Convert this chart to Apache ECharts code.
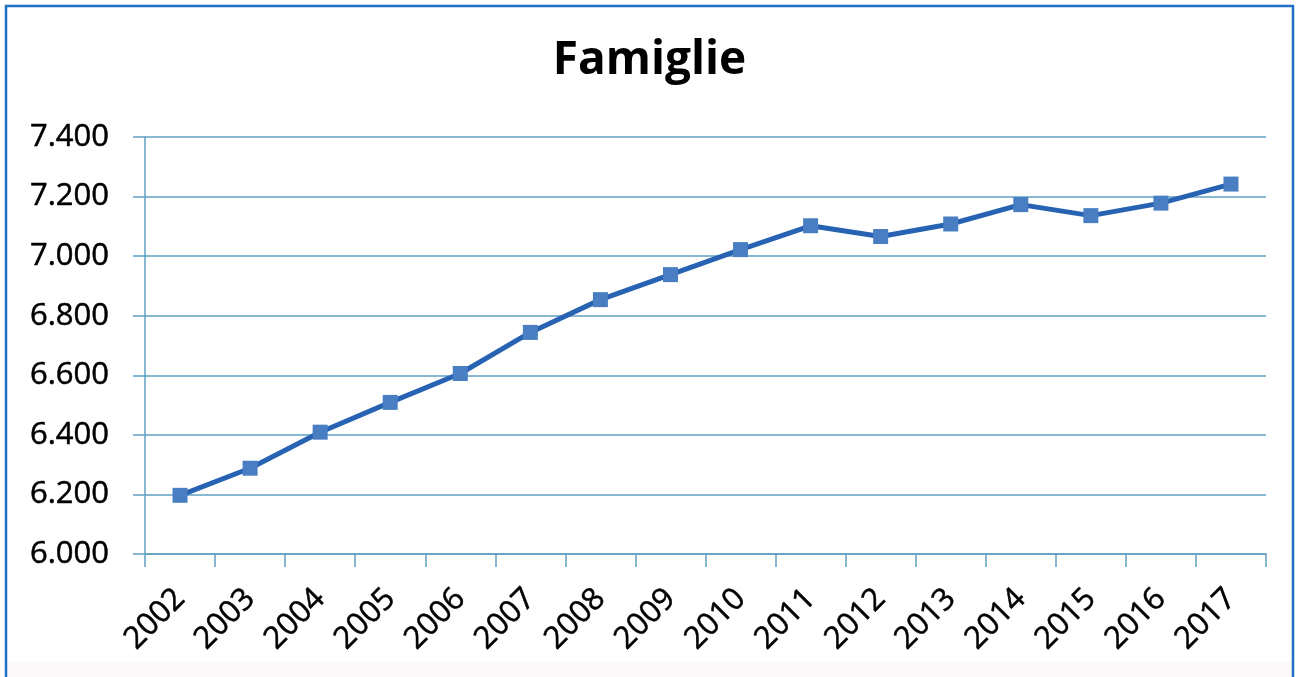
<!DOCTYPE html>
<html>
<head>
<meta charset="utf-8">
<title>Famiglie</title>
<script src="https://cdn.jsdelivr.net/npm/echarts@6/dist/echarts.min.js"></script>
<style>
  html, body { margin: 0; padding: 0; background: #ffffff; }
  #chart { width: 1299px; height: 677px; }
</style>
</head>
<body>
<div id="chart"></div>
<script>
// Numero di famiglie per anno
const years = ['2002', '2003', '2004', '2005', '2006', '2007', '2008', '2009',
               '2010', '2011', '2012', '2013', '2014', '2015', '2016', '2017'];
const famiglie = [6197, 6288, 6409, 6509, 6606, 6744, 6854, 6938,
                  7022, 7102, 7066, 7108, 7173, 7136, 7178, 7242];
const yMin = 6000;
const yMax = 7400;
const yStep = 200;

const gridColor = '#5f9fc2';
const fontFamily = '"Open Sans", "Noto Sans", sans-serif';

// Separatore delle migliaia all'italiana: 7400 -> 7.400
function fmtMigliaia(v) {
  return String(v).replace(/\B(?=(\d{3})+(?!\d))/g, '.');
}

const chart = echarts.init(document.getElementById('chart'), null, { renderer: 'canvas' });

chart.setOption({
  backgroundColor: '#ffffff',
  animation: false,
  title: {
    text: 'Famiglie',
    left: 'center',
    top: 33,
    textStyle: {
      fontFamily: fontFamily,
      fontWeight: 'bold',
      fontSize: 46,
      color: '#000000'
    }
  },
  grid: {
    left: 145,
    right: 33,
    top: 137,
    bottom: 123,
    containLabel: false
  },
  xAxis: {
    type: 'category',
    data: years,
    boundaryGap: true,
    axisLine: { show: true, lineStyle: { color: gridColor, width: 1.5 } },
    axisTick: { show: true, length: 13, alignWithLabel: false, lineStyle: { color: gridColor, width: 1.5 } },
    axisLabel: {
      rotate: 45,
      margin: 40,
      fontFamily: fontFamily,
      fontSize: 31,
      color: '#000000',
      textBorderColor: '#000000',
      textBorderWidth: 0.5
    },
    splitLine: { show: false }
  },
  yAxis: {
    type: 'value',
    min: yMin,
    max: yMax,
    interval: yStep,
    axisLine: { show: true, lineStyle: { color: gridColor, width: 1.5 } },
    axisTick: { show: true, length: 12, inside: false, lineStyle: { color: gridColor, width: 1.5 } },
    axisLabel: {
      margin: 36,
      fontFamily: fontFamily,
      fontSize: 31,
      color: '#000000',
      textBorderColor: '#000000',
      textBorderWidth: 0.5,
      formatter: fmtMigliaia
    },
    splitLine: { show: true, lineStyle: { color: gridColor, width: 1.5 } }
  },
  series: [{
    name: 'Famiglie',
    type: 'line',
    data: famiglie,
    symbol: 'rect',
    symbolSize: 15,
    lineStyle: { color: '#2763b2', width: 5 },
    itemStyle: { color: '#4a7ec2' },
    z: 3
  }],
  graphic: [
    {
      type: 'rect',
      shape: { x: 7, y: 662, width: 1285, height: 20 },
      style: { fill: '#faf8f8' },
      z: -1,
      silent: true
    },
    {
      type: 'rect',
      shape: { x: 6, y: 6, width: 1287, height: 700 },
      style: { fill: 'none', stroke: '#1f6fc4', lineWidth: 2.5 },
      silent: true
    }
  ]
});
</script>
</body>
</html>
